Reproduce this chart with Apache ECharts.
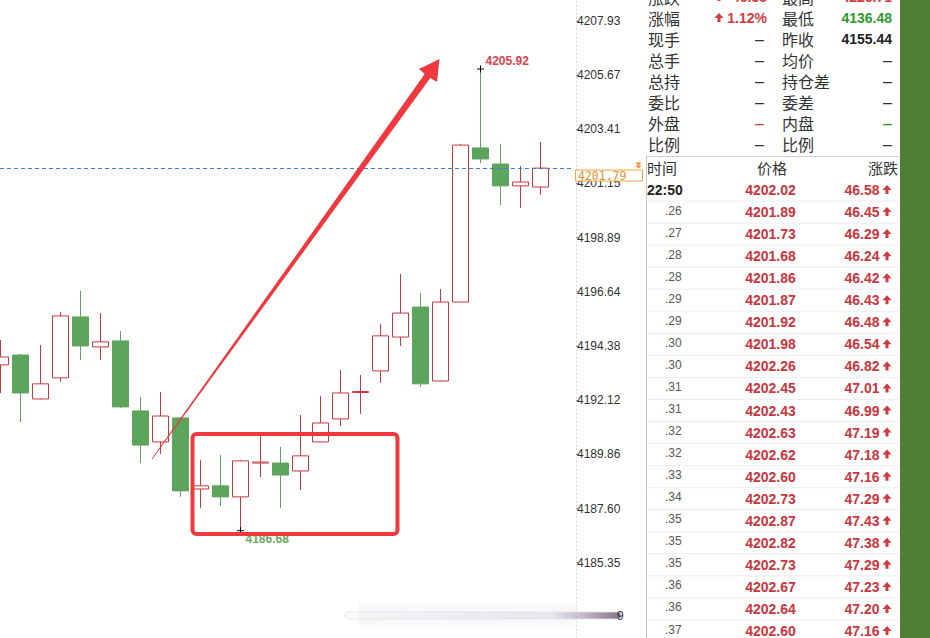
<!DOCTYPE html>
<html><head><meta charset="utf-8">
<script src="https://cdn.jsdelivr.net/npm/echarts@6/dist/echarts.min.js"></script>
<style>html,body{margin:0;padding:0;background:#fff;}#c{width:930px;height:638px;}</style>
</head><body><div id="c"></div>
<script>
// ---- data ----
const categories = ['1','2','3','4','5','6','7','8','9','10','11','12','13','14','15','16','17','18','19','20','21','22','23','24','25','26','27','28'];
// [open, close, low, high]
const opens  = [4193.59,4194.00,4192.17,4193.05,4195.59,4194.34,4194.59,4191.67,4190.38,4191.38,4188.42,4188.55,4188.09,4189.50,4189.50,4189.17,4190.38,4191.34,4192.44,4193.34,4194.75,4196.00,4192.92,4196.21,4202.63,4201.96,4201.05,4201.00];
const closes = [4193.92,4192.42,4192.80,4195.63,4194.38,4194.55,4191.84,4190.25,4191.46,4188.34,4188.55,4188.09,4189.59,4189.54,4189.00,4189.80,4191.17,4192.42,4192.48,4194.80,4195.75,4192.80,4196.21,4202.75,4202.17,4201.05,4201.21,4201.79];
const lows   = [4192.42,4191.21,4192.15,4192.88,4193.80,4193.80,4191.80,4189.50,4189.88,4188.09,4187.63,4187.71,4186.68,4188.92,4187.63,4188.38,4190.36,4191.05,4191.55,4192.84,4194.38,4192.67,4192.90,4196.20,4202.00,4200.25,4200.13,4200.67];
const highs  = [4194.63,4194.05,4194.42,4195.80,4196.67,4195.75,4195.00,4192.25,4192.46,4191.40,4189.63,4189.84,4189.63,4190.75,4190.17,4191.50,4192.30,4193.38,4193.17,4195.30,4197.38,4196.59,4196.75,4202.80,4205.92,4202.80,4201.88,4202.88];
const yTicks = [4185.35,4187.60,4189.86,4192.12,4194.38,4196.64,4198.89,4201.15,4203.41,4205.67,4207.93];
const lastPrice = 4201.79;
const highMark = {idx:24, value:4205.92};
const lowMark = {idx:12, value:4186.68};

const statLabelsL = ['涨跌','涨幅','现手','总手','总持','委比','外盘','比例'];
const statValsL   = ['46.35','1.12%','–','–','–','–','–','–'];
const statLabelsR = ['最高','最低','昨收','均价','持仓差','委差','内盘','比例'];
const statValsR   = ['4226.71','4136.48','4155.44','–','–','–','–','–'];

const tableHead = ['时间','价格','涨跌'];
const times   = ['22:50','.26','.27','.28','.28','.29','.29','.30','.30','.31','.31','.32','.32','.33','.34','.35','.35','.35','.36','.36','.37'];
const prices  = [4202.02,4201.89,4201.73,4201.68,4201.86,4201.87,4201.92,4201.98,4202.26,4202.45,4202.43,4202.63,4202.62,4202.60,4202.73,4202.87,4202.82,4202.73,4202.67,4202.64,4202.60];
const changes = [46.58,46.45,46.29,46.24,46.42,46.43,46.48,46.54,46.82,47.01,46.99,47.19,47.18,47.16,47.29,47.43,47.38,47.29,47.23,47.20,47.16];

// ---- chart ----
const RED = '#c8383e', GREEN = '#5da55c';
const NUM = 'Liberation Sans, Arial, sans-serif';
const CJK = '"Noto Sans CJK SC", sans-serif';
const kData = categories.map((c,i) => [opens[i], closes[i], lows[i], highs[i]]);

const chart = echarts.init(document.getElementById('c'), null, {renderer:'svg', width:930, height:638});
chart.setOption({
  animation:false,
  backgroundColor:'#fff',
  grid:{left:0.5, right:389.5, top:0, bottom:0, containLabel:false},
  xAxis:{type:'category', data:categories, show:false, boundaryGap:false},
  yAxis:{
    type:'value', position:'right', offset:35.5, min:4182.21, max:4208.795, scale:true,
    splitLine:{show:false},
    axisLine:{show:true, lineStyle:{color:'#d4d4d4', type:[1,3], width:1}},
    axisTick:{show:true, length:3, customValues:yTicks, lineStyle:{color:'#999'}},
    axisLabel:{show:true, customValues:yTicks, margin:1, color:'#333', fontSize:12, fontFamily:NUM,
      formatter:v => Number(v).toFixed(2)}
  },
  series:[{
    type:'candlestick', data:kData, barWidth:17, clip:true,
    itemStyle:{color:'#fff', color0:GREEN, borderColor:RED, borderColor0:GREEN, borderWidth:1}
  }]
});

// ---- overlays ----
const g = [];
const px = (i,v) => chart.convertToPixel({xAxisIndex:0,yAxisIndex:0},[categories[i], v]);
function cross(p){
  g.push({type:'polyline', shape:{points:[[p[0]-3.5,p[1]],[p[0]+3.5,p[1]]]}, style:{stroke:'#000',lineWidth:1}, z:20});
  g.push({type:'polyline', shape:{points:[[p[0],p[1]-3.5],[p[0],p[1]+3.5]]}, style:{stroke:'#000',lineWidth:1}, z:20});
}
const ph = px(highMark.idx, highMark.value);
cross(ph);
g.push({type:'text', x:ph[0]+5, y:ph[1]-8, style:{text:highMark.value.toFixed(2), fill:'#d9434a', fontSize:12, fontWeight:'bold', fontFamily:NUM, align:'left', verticalAlign:'middle'}, z:20});
const pl = px(lowMark.idx, lowMark.value);
cross(pl);
g.push({type:'text', x:pl[0]+5, y:pl[1]+8, style:{text:lowMark.value.toFixed(2), fill:'#6aaa5e', fontSize:12, fontWeight:'bold', fontFamily:NUM, align:'left', verticalAlign:'middle'}, z:20});

// current price dashed line + box
const y0 = Math.round(px(0, lastPrice)[1]) + 0.5;
g.push({type:'line', shape:{x1:0, y1:y0, x2:574, y2:y0}, style:{stroke:'#3b7fce', lineWidth:1, lineDash:[4,3]}, z:15});
g.push({type:'rect', shape:{x:575.5, y:y0+1.5, width:67, height:11}, style:{fill:'rgba(255,255,255,0.85)', stroke:'#f0a640', lineWidth:1}, z:30});
g.push({type:'text', x:578, y:y0+7.3, style:{text:lastPrice.toFixed(2), fill:'#e8902a', fontSize:11.5, lineHeight:11, fontFamily:'DejaVu Sans Mono, Liberation Mono, monospace', align:'left', verticalAlign:'middle'}, z:31});
g.push({type:'polygon', shape:{points:[[635.5,y0-6],[641.5,y0-6],[638.5,y0-3]]}, style:{fill:'#f08a20'}, z:31});
g.push({type:'polygon', shape:{points:[[635.5,y0-3],[641.5,y0-3],[638.5,y0]]}, style:{fill:'#f08a20'}, z:31});

// annotation: red arrow and rectangle
g.push({type:'polygon', shape:{points:[[152.3,459.2],[430.3,78.0],[437,82],[439.5,59],[419,69],[424.7,74.0],[151.7,458.8]]},
  style:{fill:'#f0393e'}, z:40});
g.push({type:'rect', shape:{x:192.5, y:434, width:205, height:100, r:4}, style:{fill:'none', stroke:'#ee3a3f', lineWidth:4}, z:40});

// watermark-ish bottom bar
g.push({type:'rect', shape:{x:358, y:603, width:218, height:22, r:3}, style:{fill:'rgba(232,228,235,0.22)', shadowBlur:10, shadowColor:'rgba(220,212,225,0.35)'}, z:5});
g.push({type:'rect', shape:{x:345, y:612, width:276, height:7, r:3.5},
  style:{fill:new echarts.graphic.LinearGradient(0,0,1,0,[{offset:0,color:'rgba(248,246,249,0.6)'},{offset:0.75,color:'rgba(222,214,228,0.6)'},{offset:1,color:'rgba(105,85,115,0.85)'}]),
    stroke:'rgba(230,226,233,0.8)', lineWidth:1}, z:6});
g.push({type:'text', x:617, y:615.5, style:{text:'9', fill:'#333', fontSize:12, fontFamily:NUM, align:'left', verticalAlign:'middle'}, z:7});

// right panel
g.push({type:'rect', shape:{x:900, y:0, width:30, height:638}, style:{fill:'#4e7f36'}, z:1});
g.push({type:'polyline', shape:{points:[[646.5,156.5],[646.5,638]]}, style:{stroke:'#c8c8c8', lineWidth:1}, z:2});
g.push({type:'polyline', shape:{points:[[646,156.5],[899,156.5]]}, style:{stroke:'#cfcfcf', lineWidth:1}, z:2});

function upArrow(x, c, color){
  g.push({type:'polygon', shape:{points:[[x,c-5],[x+4.5,c],[x+1.5,c],[x+1.5,c+4],[x-1.5,c+4],[x-1.5,c],[x-4.5,c]]}, style:{fill:color}, z:10});
}
const statY0 = -3, statDy = 21;
statLabelsL.forEach((t,i) => {
  const y = statY0 + i*statDy;
  g.push({type:'text', x:648, y:y, style:{text:t, fill:'#333', fontSize:16, lineHeight:18, fontFamily:CJK, align:'left', verticalAlign:'middle'}, z:10});
  const isNum = statValsL[i] !== '–';
  let col = '#333';
  if (isNum) col = '#d53a40';
  if (t === '外盘') col = '#d53a40';
  g.push({type:'text', x:isNum?767:764, y:y, style:{text:statValsL[i], fill:col, fontSize:isNum?14:16, lineHeight:16, fontWeight:isNum?'bold':'normal', fontFamily:NUM, align:'right', verticalAlign:'middle'}, z:10});
  if (isNum) upArrow(719, y, '#d53a40');
});
statLabelsR.forEach((t,i) => {
  const y = statY0 + i*statDy;
  g.push({type:'text', x:782, y:y, style:{text:t, fill:'#333', fontSize:16, lineHeight:18, fontFamily:CJK, align:'left', verticalAlign:'middle'}, z:10});
  const isNum = statValsR[i] !== '–';
  let col = '#333';
  if (t === '最高') col = '#d53a40';
  if (t === '最低' || t === '内盘') col = '#2f9a2f';
  if (t === '昨收') col = '#222';
  g.push({type:'text', x:892, y:y, style:{text:statValsR[i], fill:col, fontSize:isNum?14:16, lineHeight:16, fontWeight:isNum?'bold':'normal', fontFamily:NUM, align:'right', verticalAlign:'middle'}, z:10});
});

// table header
g.push({type:'text', x:647, y:167, style:{text:tableHead[0], fill:'#333', fontSize:15, lineHeight:17, fontFamily:CJK, align:'left', verticalAlign:'middle'}, z:10});
g.push({type:'text', x:772, y:167, style:{text:tableHead[1], fill:'#333', fontSize:15, lineHeight:17, fontFamily:CJK, align:'center', verticalAlign:'middle'}, z:10});
g.push({type:'text', x:898, y:167, style:{text:tableHead[2], fill:'#333', fontSize:15, lineHeight:17, fontFamily:CJK, align:'right', verticalAlign:'middle'}, z:10});

const rowY0 = 190, rowDy = 22.05;
times.forEach((t,i) => {
  const y = rowY0 + i*rowDy;
  if (i === 0) {
    g.push({type:'text', x:647, y:y, style:{text:t, fill:'#222', fontSize:14, fontWeight:'bold', fontFamily:NUM, align:'left', verticalAlign:'middle'}, z:10});
  } else {
    g.push({type:'text', x:665, y:y-1.5, style:{text:t, fill:'#555', fontSize:12, fontFamily:NUM, align:'left', verticalAlign:'middle'}, z:10});
  }
  g.push({type:'text', x:770.5, y:y, style:{text:prices[i].toFixed(2), fill:'#c9363d', fontSize:14, fontWeight:'bold', fontFamily:NUM, align:'center', verticalAlign:'middle'}, z:10});
  g.push({type:'text', x:879.5, y:y, style:{text:changes[i].toFixed(2), fill:'#c9363d', fontSize:14, fontWeight:'bold', fontFamily:NUM, align:'right', verticalAlign:'middle'}, z:10});
  upArrow(887, y, '#d0393e');
  g.push({type:'polyline', shape:{points:[[647,y+11],[899,y+11]]}, style:{stroke:'#ededed', lineWidth:1}, z:2});
});

chart.setOption({graphic: g});
</script>
</body></html>
